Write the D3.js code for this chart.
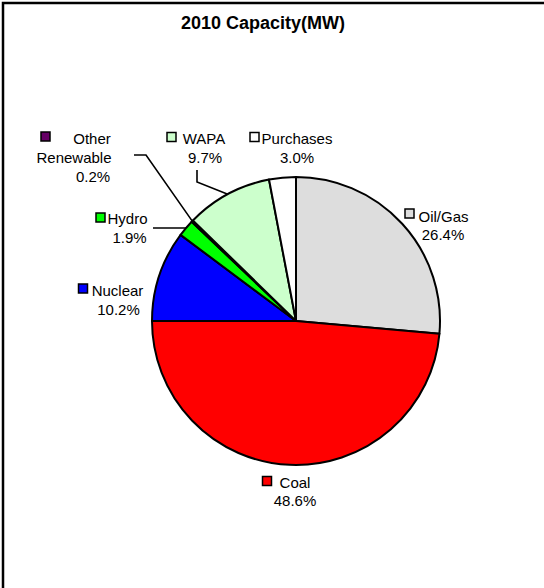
<!DOCTYPE html>
<html>
<head>
<meta charset="utf-8">
<script src="https://cdn.jsdelivr.net/npm/d3@7"></script>
<style>
  html, body { margin: 0; padding: 0; background: #fff; overflow: hidden; }
  svg { display: block; overflow: hidden; }
  text { font-family: "Liberation Sans", Arial, sans-serif; fill: #000; }
</style>
</head>
<body>
<script>
// ---- data ----
const categories = ["Oil/Gas", "Coal", "Nuclear", "Hydro", "Other Renewable", "WAPA", "Purchases"];
const values = [26.4, 48.6, 10.2, 1.9, 0.2, 9.7, 3.0];
const colors = ["#DDDDDD", "#FF0000", "#0000FF", "#00FF00", "#660066", "#CCFFCC", "#FFFFFF"];
const title = "2010 Capacity(MW)";

// ---- layout (positions only) ----
const W = 544, H = 588;
const cx = 296, cy = 321, R = 144;
const labelLayout = {
  "Oil/Gas":        { lines: [[null, 443.5, 221.5], ["pct", 443, 240]], marker: [405, 209] },
  "Coal":           { lines: [[null, 295, 488], ["pct", 295, 506]], marker: [262.5, 476.5] },
  "Nuclear":        { lines: [[null, 117.5, 296], ["pct", 118.5, 315]], marker: [78.5, 284] },
  "Hydro":          { lines: [[null, 127.5, 224], ["pct", 129.5, 243]], marker: [96, 213] },
  "Other Renewable":{ lines: [["Other", 92, 144], ["Renewable", 74, 163], ["pct", 93, 181.5]], marker: [41, 132] , leader: [[134, 155], [146, 155]] },
  "WAPA":           { lines: [[null, 204, 144], ["pct", 205, 163]], marker: [167, 132.5], leader: [[197, 170], [197, 182]] },
  "Purchases":      { lines: [[null, 297, 143.5], ["pct", 297, 162.5]], marker: [250, 132.5] }
};
labelLayout["Hydro"].leader = [[153, 228], [186, 228]];

const svg = d3.select("body").append("svg").attr("width", W).attr("height", H);

// frame: only top and left edges are visible in the reference
svg.append("path").attr("d", `M3,${H}V3H${W}`)
  .attr("fill", "none").attr("stroke", "#000").attr("stroke-width", 2.5);

svg.append("text").attr("x", 263).attr("y", 29).attr("text-anchor", "middle")
  .style("font-size", "18px").style("font-weight", "bold").text(title);

const data = categories.map((c, i) => ({ name: c, value: values[i], color: colors[i] }));
const pie = d3.pie().value(d => d.value).sort(null);
const arcs = pie(data);
const arc = d3.arc().innerRadius(0).outerRadius(R);
const edge = d3.arc().innerRadius(R).outerRadius(R);

const g = svg.append("g").attr("transform", `translate(${cx},${cy})`);
g.selectAll("path.slice").data(arcs).join("path")
  .attr("class", "slice")
  .attr("d", arc)
  .attr("fill", d => d.data.color)
  .attr("stroke", "#000").attr("stroke-width", 2).attr("stroke-linejoin", "round");

// leader lines
arcs.forEach(a => {
  const L = labelLayout[a.data.name];
  if (!L.leader) return;
  const c = edge.centroid(a);
  const pts = L.leader.concat([[c[0] + cx, c[1] + cy]]);
  svg.append("path").attr("d", d3.line()(pts))
    .attr("fill", "none").attr("stroke", "#000").attr("stroke-width", 1.6);
});

// labels
arcs.forEach(a => {
  const L = labelLayout[a.data.name];
  const pct = a.data.value.toFixed(1) + "%";
  L.lines.forEach(([t, x, y]) => {
    const txt = t === "pct" ? pct : (t === null ? a.data.name : t);
    svg.append("text").attr("x", x).attr("y", y).attr("text-anchor", "middle")
      .style("font-size", "15px").text(txt);
  });
  svg.append("rect").attr("x", L.marker[0]).attr("y", L.marker[1]).attr("width", 9).attr("height", 9)
    .attr("fill", a.data.color).attr("stroke", "#000").attr("stroke-width", 1.5);
});
</script>
</body>
</html>
